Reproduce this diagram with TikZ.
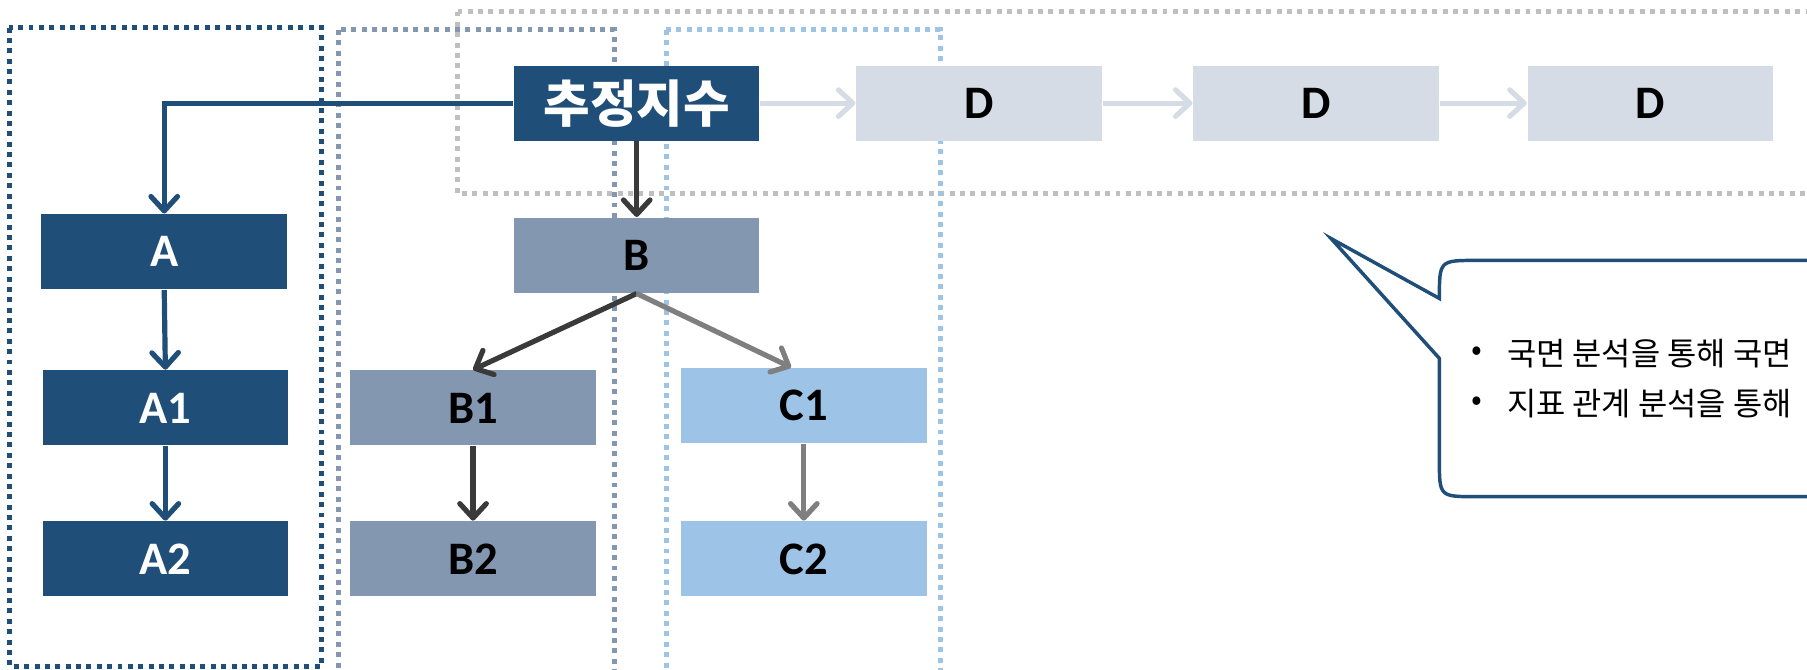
\documentclass[tikz,border=0pt]{standalone}
\usepackage{fontspec}
\setmainfont{Carlito}
\newfontfamily\kofont{Noto Sans CJK KR}
\usetikzlibrary{arrows.meta}

\definecolor{navy}{HTML}{1F4E79}
\definecolor{slate}{HTML}{8497B0}
\definecolor{sky}{HTML}{9DC3E6}
\definecolor{pale}{HTML}{D6DCE5}
\definecolor{lgray}{HTML}{BFBFBF}
\definecolor{ink}{HTML}{3A3A3A}
\definecolor{ash}{HTML}{7F7F7F}

\begin{document}
\begin{tikzpicture}[x=0.1mm, y=-0.1mm,
		box/.style={fill=#1, minimum width=21.3mm, minimum height=6.5mm, inner sep=0pt, font=\fontsize{11.5}{12}\selectfont\bfseries},
		L/.style={line width=0.45mm, draw=#1, -{Straight Barb[round, length=1.25mm, width=2.3mm]}},
		zone/.style={line width=0.43mm, draw=#1, dash pattern=on 0.43mm off 0.47mm},
		note/.style={font=\kofont\fontsize{7.85}{9}\selectfont, inner sep=0pt, anchor=west}
		]
		\useasboundingbox (0,0) rectangle (1568,581);
		\clip (0,0) rectangle (1568,581);
		
		% dotted groups
		\draw[zone=navy] (8,24) rectangle (279,578);
		\draw[zone=slate] (294,26) rectangle (533,600);
		\draw[zone=lgray] (397,10) rectangle (1600,168);
		\draw[zone=sky] (578,26) rectangle (816,600);
		
		% top row
		\node[box=navy, text=white, font=\kofont\fontsize{12.5}{14}\selectfont\bfseries] (idx) at (552.5,89.5) {추정지수};
		\foreach \x [count=\i] in {849.5,1142,1432}{\node[box=pale] (D\i) at (\x,89.5) {D};}
		
		\node[box=navy, text=white] (A) at (142.5,218.5) {A};
		\node[box=navy, text=white] (A1) at (143.5,354) {A1};
		\node[box=navy, text=white] (A2) at (143.5,485) {A2};
		
		\node[box=slate] (B) at (552.5,221.5) {B};
		\node[box=slate] (B1) at (410.5,354) {B1};
		\node[box=slate] (B2) at (410.5,485) {B2};
		
		\node[box=sky] (C1) at (697.5,352) {C1};
		\node[box=sky] (C2) at (697.5,485) {C2};
		
		\draw[L=pale] (idx) -- (D1);
		\draw[L=pale] (D1) -- (D2);
		\draw[L=pale] (D2) -- (D3);
		
		\draw[L=navy] (idx.west) -| (A.north);
		\draw[L=navy] (A.south) -- (A1.north);
		\draw[L=navy] (A1.south) -- (A2.north);
		
		\draw[L=ink] (idx.south) -- (B.north);
		\draw[L=ink] (B.south) -- (B1.north);
		\draw[L=ash] (B.south) -- ([xshift=-1.1mm]C1.north);
		\draw[L=ink] (B1.south) -- (B2.north);
		\draw[L=ash] (C1.south) -- (C2.north);
		
		% speech bubble
		\draw[line width=0.3mm, draw=navy] (1600,226) -- (1281,226) .. controls (1249,226) .. (1249,259)
			-- (1155,207) -- (1249,311) -- (1249,399) .. controls (1249,431) .. (1281,431) -- (1600,431);
		\node[note] (dot1) at (1276,307) {•};
		\node[note] (t1) at (1307,307) {국면 분석을 통해 국면};
		\node[note] (dot2) at (1276,350) {•};
		\node[note] (t2) at (1307,350) {지표 관계 분석을 통해};
		
		\end{tikzpicture}
\end{document}
